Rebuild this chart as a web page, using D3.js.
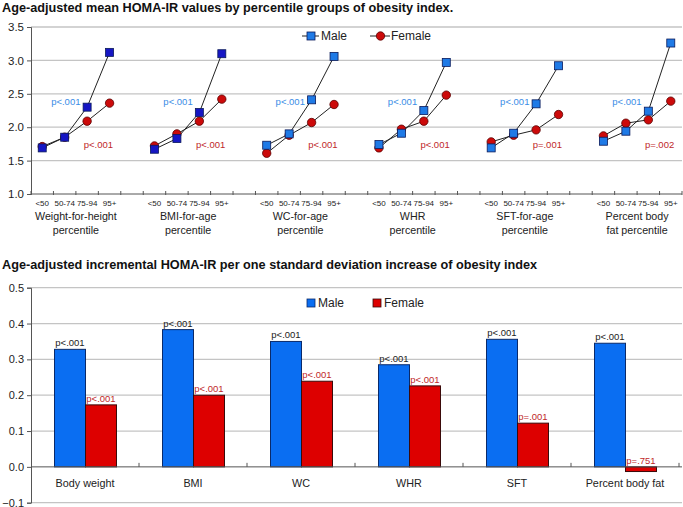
<!DOCTYPE html>
<html><head><meta charset="utf-8">
<script src="https://cdn.jsdelivr.net/npm/d3@7"></script>
<style>
body{margin:0;background:#fff;}
svg{display:block;font-family:"Liberation Sans",Arial,sans-serif;}
</style></head>
<body><svg id="c" width="683" height="507"></svg>
<script>
// ---------- data: top chart ----------
const groupLabels = ["<50", "50-74", "75-94", "95+"];
const panelLines = [["Weight-for-height","percentile"],["BMI-for-age","percentile"],["WC-for-age","percentile"],["WHR","percentile"],["SFT-for-age","percentile"],["Percent body","fat percentile"]];
const maleMean = [[1.69,1.85,2.30,3.12],[1.67,1.83,2.22,3.10],[1.73,1.90,2.41,3.06],[1.74,1.91,2.25,2.97],[1.69,1.91,2.35,2.92],[1.79,1.94,2.24,3.26]];
const femaleMean = [[1.71,1.85,2.09,2.36],[1.72,1.90,2.09,2.42],[1.61,1.88,2.07,2.34],[1.69,1.97,2.09,2.48],[1.78,1.88,1.96,2.19],[1.87,2.06,2.11,2.39]];
const maleTopP = ["p<.001","p<.001","p<.001","p<.001","p<.001","p<.001"];
const femaleTopP = ["p<.001","p<.001","p<.001","p<.001","p=.001","p=.002"];
const topTicks = [1.0,1.5,2.0,2.5,3.0,3.5];
// ---------- data: bottom chart ----------
const indices = ["Body weight","BMI","WC","WHR","SFT","Percent body fat"];
const maleInc = [0.328,0.383,0.350,0.285,0.356,0.345];
const femaleInc = [0.173,0.200,0.239,0.226,0.122,-0.013];
const maleIncP = ["p<.001","p<.001","p<.001","p<.001","p<.001","p<.001"];
const femaleIncP = ["p<.001","p<.001","p<.001","p<.001","p=.001","p=.751"];
const bottomTicks = [-0.1,0.0,0.1,0.2,0.3,0.4,0.5];

const svg = d3.select("#c");
const grid = "#c4c4c4", axisCol = "#555";
const maleDark = "#1616c4", maleLight = "#1f7ae6", femaleCol = "#cc0a0a";

// ================= TOP CHART =================
svg.append("text").attr("x",2).attr("y",12).attr("font-size",12.7).attr("font-weight","bold").attr("fill","#111")
  .text("Age-adjusted mean HOMA-IR values by percentile groups of obesity index.");

const nSlots = panelLines.length*5 - 1;
const slots = d3.range(nSlots);
const xT = d3.scaleBand().domain(slots).range([31,682]).padding(0);
const yT = d3.scaleLinear().domain([1.0,3.5]).range([194,27]);

const gT = svg.append("g");
gT.selectAll("line.grid").data(topTicks.filter(d=>d>1)).join("line")
  .attr("x1",31).attr("x2",682).attr("y1",d=>yT(d)).attr("y2",d=>yT(d))
  .attr("stroke",grid).attr("stroke-width",1.3);
// y axis
const yAxT = gT.append("g").attr("transform","translate(31,0)")
  .call(d3.axisLeft(yT).tickValues(topTicks).tickFormat(d3.format(".1f")).tickSize(4).tickPadding(3));
yAxT.select(".domain").attr("stroke",axisCol);
yAxT.selectAll(".tick line").attr("stroke",axisCol);
yAxT.selectAll("text").attr("font-size",11.5).attr("fill","#222").attr("font-family","Liberation Sans, Arial");
// x axis
gT.append("line").attr("x1",31).attr("x2",682).attr("y1",yT(1)).attr("y2",yT(1)).attr("stroke",axisCol);
gT.selectAll("line.xt").data(d3.range(nSlots+1)).join("line")
  .attr("x1",d=>31+d*xT.bandwidth()).attr("x2",d=>31+d*xT.bandwidth())
  .attr("y1",yT(1)-3).attr("y2",yT(1)+1).attr("stroke",axisCol);
panelLines.forEach((lines,p)=>{
  groupLabels.forEach((g,i)=>{
    gT.append("text").attr("x",xT(p*5+i)+xT.bandwidth()/2).attr("y",206)
      .attr("text-anchor","middle").attr("font-size",8).attr("fill","#222").text(g);
  });
  const cx = xT(p*5+2);
  lines.forEach((l,j)=>{
    gT.append("text").attr("x",cx).attr("y",220+j*13.5).attr("text-anchor","middle")
      .attr("font-size",10.7).attr("fill","#222").text(l);
  });
  const line = d3.line().x((d,i)=>xT(p*5+i)+xT.bandwidth()/2).y(d=>yT(d));
  gT.append("path").attr("d",line(maleMean[p])).attr("fill","none").attr("stroke","#222").attr("stroke-width",1);
  gT.append("path").attr("d",line(femaleMean[p])).attr("fill","none").attr("stroke","#222").attr("stroke-width",1);
  gT.selectAll(null).data(femaleMean[p]).join("circle")
    .attr("cx",(d,i)=>xT(p*5+i)+xT.bandwidth()/2).attr("cy",d=>yT(d)).attr("r",4.2)
    .attr("fill",femaleCol).attr("stroke","#5a0000").attr("stroke-width",0.8);
  gT.selectAll(null).data(maleMean[p]).join("rect")
    .attr("x",(d,i)=>xT(p*5+i)+xT.bandwidth()/2-4).attr("y",d=>yT(d)-4).attr("width",8).attr("height",8)
    .attr("fill",p<2?maleDark:maleLight).attr("stroke","#0a1a5a").attr("stroke-width",0.8);
  gT.append("text").attr("x",xT(p*5+1)+xT.bandwidth()*0.55).attr("y",104.5).attr("text-anchor","middle")
    .attr("font-size",9.5).attr("fill","#3a8de6").text(maleTopP[p]);
  gT.append("text").attr("x",xT(p*5+3)).attr("y",147.5).attr("text-anchor","middle")
    .attr("font-size",9.5).attr("fill","#c0282a").text(femaleTopP[p]);
});
// legend top
const lgT = gT.append("g");
lgT.append("line").attr("x1",302).attr("x2",319).attr("y1",36).attr("y2",36).attr("stroke","#222");
lgT.append("rect").attr("x",307).attr("y",32).attr("width",8).attr("height",8).attr("fill",maleLight).attr("stroke","#0a1a5a").attr("stroke-width",0.8);
lgT.append("text").attr("x",321).attr("y",40).attr("font-size",12).attr("fill","#222").text("Male");
lgT.append("line").attr("x1",370).attr("x2",390).attr("y1",36).attr("y2",36).attr("stroke","#222");
lgT.append("circle").attr("cx",380.5).attr("cy",36).attr("r",4.2).attr("fill",femaleCol).attr("stroke","#5a0000").attr("stroke-width",0.8);
lgT.append("text").attr("x",391).attr("y",40).attr("font-size",12).attr("fill","#222").text("Female");

// ================= BOTTOM CHART =================
svg.append("text").attr("x",2).attr("y",269).attr("font-size",12.7).attr("font-weight","bold").attr("fill","#111")
  .text("Age-adjusted incremental HOMA-IR per one standard deviation increase of obesity index");

const x0 = d3.scaleBand().domain(indices).range([31,679]).padding(0);
const x1 = d3.scaleBand().domain(["Male","Female"]).range([23.5,85.5]).padding(0);
const yB = d3.scaleLinear().domain([-0.1,0.5]).range([502.7,287.7]);
const gB = svg.append("g");
gB.selectAll("line.grid").data(bottomTicks.filter(d=>d!==0)).join("line")
  .attr("x1",31).attr("x2",682).attr("y1",d=>yB(d)).attr("y2",d=>yB(d))
  .attr("stroke",grid).attr("stroke-width",1.3);
const yAxB = gB.append("g").attr("transform","translate(31,0)")
  .call(d3.axisLeft(yB).tickValues(bottomTicks).tickFormat(d3.format(".1f")).tickSize(4).tickPadding(3));
yAxB.select(".domain").attr("stroke",axisCol);
yAxB.selectAll(".tick line").attr("stroke",axisCol);
yAxB.selectAll("text").attr("font-size",11).attr("fill","#222").attr("font-family","Liberation Sans, Arial");

const series = [{name:"Male",vals:maleInc,p:maleIncP,fill:"#0a6ef2",stroke:"#0a2a6a",pc:"#222"},
                {name:"Female",vals:femaleInc,p:femaleIncP,fill:"#dd0000",stroke:"#3a0a0a",pc:"#c0282a"}];
series.forEach(s=>{
  gB.selectAll(null).data(indices).join("rect")
    .attr("x",d=>x0(d)+x1(s.name)).attr("width",x1.bandwidth())
    .attr("y",(d,i)=>yB(Math.max(0,s.vals[i]))).attr("height",(d,i)=>Math.abs(yB(s.vals[i])-yB(0)))
    .attr("fill",s.fill).attr("stroke",s.stroke).attr("stroke-width",1);
  gB.selectAll(null).data(indices).join("text")
    .attr("x",d=>x0(d)+x1(s.name)+x1.bandwidth()/2).attr("y",(d,i)=>yB(Math.max(0,s.vals[i]))-3)
    .attr("text-anchor","middle").attr("font-size",9.5).attr("fill",s.pc).text((d,i)=>s.p[i]);
});
// zero axis
gB.append("line").attr("x1",31).attr("x2",682).attr("y1",yB(0)).attr("y2",yB(0)).attr("stroke",axisCol);
gB.selectAll("line.xt").data(d3.range(indices.length+1).slice(1)).join("line")
  .attr("x1",d=>31+d*x0.bandwidth()).attr("x2",d=>31+d*x0.bandwidth())
  .attr("y1",yB(0)-4).attr("y2",yB(0)).attr("stroke",axisCol);
gB.selectAll("text.cat").data(indices).join("text")
  .attr("x",d=>x0(d)+x0.bandwidth()/2).attr("y",487).attr("text-anchor","middle")
  .attr("font-size",10.8).attr("fill","#222").text(d=>d);
// legend bottom
const lgB = gB.append("g");
lgB.append("rect").attr("x",307).attr("y",299).attr("width",8).attr("height",8).attr("fill","#0a6ef2").attr("stroke","#0a2a6a").attr("stroke-width",0.8);
lgB.append("text").attr("x",318).attr("y",307).attr("font-size",12).attr("fill","#222").text("Male");
lgB.append("rect").attr("x",373).attr("y",299).attr("width",8).attr("height",8).attr("fill","#dd0000").attr("stroke","#3a0a0a").attr("stroke-width",0.8);
lgB.append("text").attr("x",384).attr("y",307).attr("font-size",12).attr("fill","#222").text("Female");
</script></body></html>
